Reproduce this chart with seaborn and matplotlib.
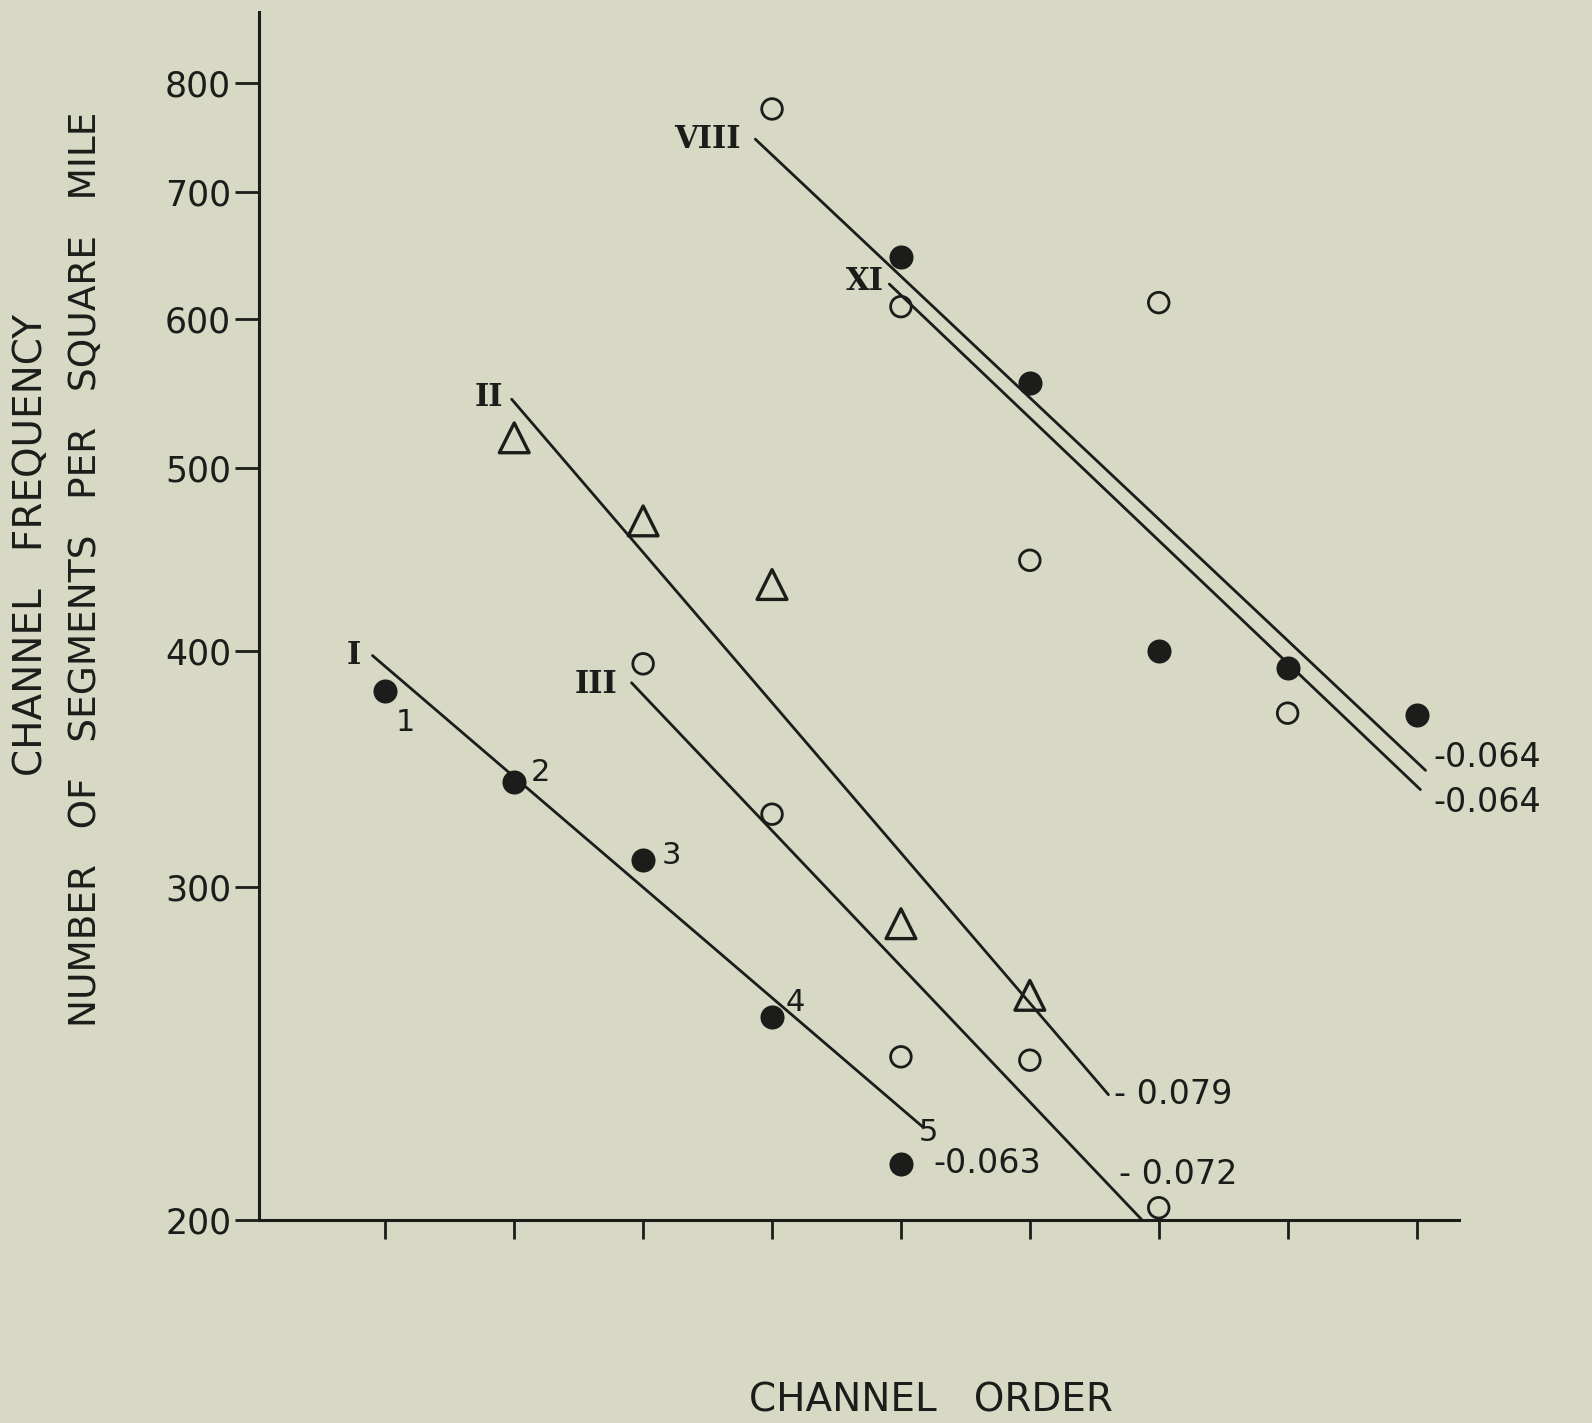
import numpy as np
import pandas as pd
import matplotlib
matplotlib.use('Agg')
import matplotlib.pyplot as plt
import seaborn as sns

# ---------------- data ----------------
order_I = [1, 2, 3, 4, 5]
freq_I = [381, 341, 310, 256, 214]
order_II = [2, 3, 4, 5, 6]
freq_II = [519, 469, 434, 287, 263]
order_III = [3, 4, 5, 6, 7]
freq_III = [394, 328, 244, 243, 203]
order_VIII = [4, 5, 6, 7, 8]
freq_VIII = [775, 609, 447, 612, 371]
order_XI = [5, 6, 7, 8, 9]
freq_XI = [647, 555, 400, 392, 370]

basins = ['I', 'II', 'III', 'VIII', 'XI']
line_x0 = [0.90, 1.98, 2.91, 3.87, 4.91]
line_x1 = [5.17, 6.61, 6.87, 9.07, 9.03]
line_y0 = [398, 544, 385, 747, 626]
line_y1 = [224, 233, 200, 346, 338]
slope_labels = ['-0.063', '- 0.079', '- 0.072', '-0.064', '-0.064']
point_labels = ['1', '2', '3', '4', '5']
y_ticks = [200, 300, 400, 500, 600, 700, 800]
x_ticks = [1, 2, 3, 4, 5, 6, 7, 8, 9]

BG = '#d7d9c4'
INK = '#1c1c1a'

sns.set_theme(style='ticks')
plt.rcParams['font.family'] = ['DejaVu Sans']
plt.rcParams['axes.facecolor'] = BG
plt.rcParams['figure.facecolor'] = BG

fig = plt.figure(figsize=(15.92, 14.23), dpi=100)
ax = fig.add_axes([0.1627, 0.1427, 0.7538, 0.8487])
ax.set_facecolor(BG)

PX = 1.0153 * 0.72  # shrunk-reference px -> points

# regression lines
lines_df = pd.DataFrame({
    'basin': np.repeat(basins, 2),
    'order': np.ravel(np.column_stack([line_x0, line_x1])),
    'freq': np.ravel(np.column_stack([line_y0, line_y1])),
})
for b in basins:
    sub = lines_df[lines_df['basin'] == b]
    sns.lineplot(data=sub, x='order', y='freq', ax=ax, color=INK, lw=2.0,
                 estimator=None, sort=False, legend=False)

# points
sns.scatterplot(x=order_I, y=freq_I, ax=ax, marker='o', s=300, color=INK,
                edgecolor=INK, linewidth=0, zorder=5)
sns.scatterplot(x=order_XI, y=freq_XI, ax=ax, marker='o', s=300, color=INK,
                edgecolor=INK, linewidth=0, zorder=5)
sns.scatterplot(x=order_III, y=freq_III, ax=ax, marker='o', s=220,
                facecolor='none', edgecolor=INK, linewidth=2.0, zorder=5)
sns.scatterplot(x=order_VIII, y=freq_VIII, ax=ax, marker='o', s=220,
                facecolor='none', edgecolor=INK, linewidth=2.0, zorder=5)
sns.scatterplot(x=order_II, y=freq_II, ax=ax, marker='^', s=460,
                facecolor='none', edgecolor=INK, linewidth=2.4, zorder=5)

ax.set_yscale('log')
ax.set_ylim(200, 872)
ax.set_xlim(0.02, 9.33)
ax.set_yticks(y_ticks)
ax.set_yticklabels([str(v) for v in y_ticks])
ax.yaxis.set_minor_locator(matplotlib.ticker.NullLocator())
ax.set_xticks(x_ticks)
ax.set_xticklabels([])
ax.tick_params(axis='y', direction='out', length=17, width=2, color=INK,
               labelsize=25, labelcolor=INK, pad=3)
ax.tick_params(axis='x', direction='out', length=14, width=2, color=INK)
for s in ['top', 'right']:
    ax.spines[s].set_visible(False)
for s in ['left', 'bottom']:
    ax.spines[s].set_linewidth(2.2)
    ax.spines[s].set_color(INK)
ax.set_xlabel('')
ax.set_ylabel('')

# roman numeral labels at line starts
roman_off = [(-11, 0), (-8, 2), (-14, -2), (-14, 0), (-5, 3)]
for b, x0, y0, (dx, dy) in zip(basins, line_x0, line_y0, roman_off):
    ax.annotate(b, (x0, y0), xytext=(dx * PX, dy * PX), textcoords='offset points',
                ha='right', va='center', fontsize=22, fontweight='bold',
                family='DejaVu Serif', color=INK)

# slope labels at line ends
slope_off = [(10, -36), (5, 0), (-23, 45), (8, 13), (13, -13)]
for lab, x1, y1, (dx, dy) in zip(slope_labels, line_x1, line_y1, slope_off):
    ax.annotate(lab, (x1, y1), xytext=(dx * PX, dy * PX), textcoords='offset points',
                ha='left', va='center', fontsize=24, color=INK)

# point numbers for basin I
num_off = [(20, -31), (26, 10), (28, 5), (23, 15), (27, 31)]
for lab, x, y, (dx, dy) in zip(point_labels, order_I, freq_I, num_off):
    ax.annotate(lab, (x, y), xytext=(dx * PX, dy * PX), textcoords='offset points',
                ha='center', va='center', fontsize=22, color=INK)

# axis titles
fig.text(0.0192, 0.617, 'CHANNEL   FREQUENCY', rotation=90, ha='center', va='center',
         fontsize=28, color=INK)
fig.text(0.054, 0.600, 'NUMBER   OF   SEGMENTS   PER   SQUARE   MILE', rotation=90,
         ha='center', va='center', fontsize=27, color=INK)
fig.text(0.585, 0.0155, 'CHANNEL   ORDER', ha='center', va='center', fontsize=28,
         color=INK)

fig.savefig('out.png', dpi=100, facecolor=BG)
